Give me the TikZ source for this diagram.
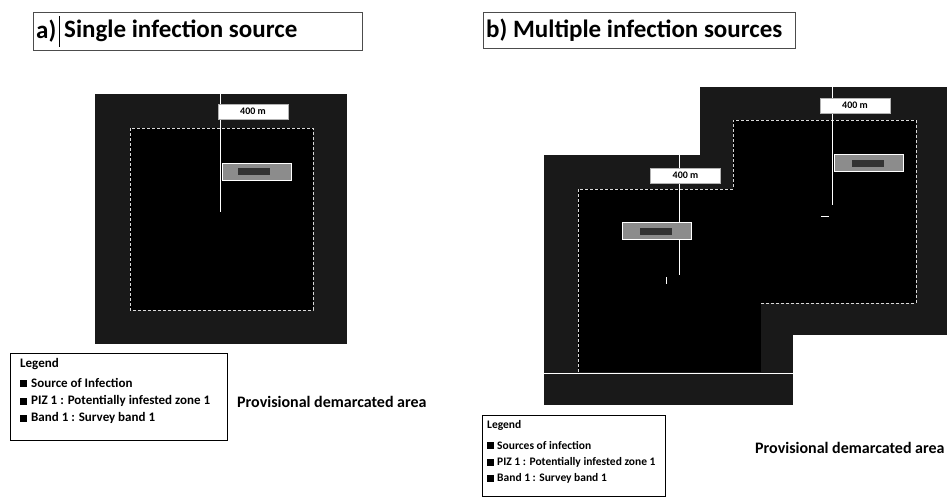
\documentclass[tikz,border=0pt]{standalone}
\usepackage{fontspec}
\setmainfont{Carlito}
\begin{document}
\begin{tikzpicture}[x=1pt,y=-1pt,
  band/.style={fill=black!90!white},
  piz/.style={fill=black},
  bound/.style={draw=white!85!black,densely dashed,line width=0.8pt},
  dimline/.style={draw=white,line width=1pt},
  distbox/.style={fill=white,draw=black!30,line width=0.4pt,inner sep=0pt,minimum width=70pt,minimum height=15pt,font=\bfseries\fontsize{10}{11}\selectfont},
  greybox/.style={fill=black!45,draw=white,line width=1pt,inner sep=0pt,minimum width=69pt,minimum height=17pt},
  greybar/.style={fill=black!80},
  titlebox/.style={draw=black!70,line width=0.6pt},
  titletext/.style={anchor=west,inner sep=0pt,font=\bfseries\fontsize{25}{27}\selectfont},
  legbox/.style={draw=black,line width=0.6pt},
  legtexta/.style={anchor=west,inner sep=0pt,font=\bfseries\fontsize{13}{15}\selectfont},
  legtextb/.style={anchor=west,inner sep=0pt,font=\bfseries\fontsize{11.5}{13}\selectfont},
  legmark/.style={fill=black,minimum size=7pt,inner sep=0pt},
  areatext/.style={anchor=west,inner sep=0pt,font=\bfseries\fontsize{16}{18}\selectfont},
  tick/.style={draw=white,line width=1pt}
]
\path[use as bounding box,fill=white] (0,0) rectangle (947,498);

% ---------------- a) single infection source ----------------
\draw[titlebox] (33,12) rectangle (362,50);
\node[titletext] (ta) at (36,31) {a)};
\draw[line width=0.8pt] (59.5,16) -- (59.5,47);
\node[titletext] (tatext) at (64,31) {Single infection source};

\fill[band] (95,94) rectangle (347,344);
\fill[piz] (130,128) rectangle (313,310);
\draw[bound] (130,128) rectangle (313,310);
\coordinate (atop) at (220,94);
\coordinate (abot) at (220,212);
\draw[dimline] (atop) -- (abot);
\node[distbox] (ad) at (253,111.5) {400 m};
\node[greybox] (ag) at (256.5,171.5) {};
\fill[greybar] (238,168) rectangle (270,175);

\draw[legbox] (10,353) rectangle (227,440);
\node[legtexta] (la0) at (20,364) {Legend};
\node[legmark] (lam1) at (23,383) {};
\node[legtexta] (la1) at (31,383) {Source of Infection};
\node[legmark] (lam2) at (23,401) {};
\node[legtexta] (la2) at (31,401) {PIZ 1 : Potentially infested zone 1};
\node[legmark] (lam3) at (23,418) {};
\node[legtexta] (la3) at (31,418) {Band 1 : Survey band 1};

\node[areatext] (aarea) at (237,402) {Provisional demarcated area};

% ---------------- b) multiple infection sources ----------------
\draw[titlebox] (483,12) rectangle (795,48);
\node[titletext] (tb) at (486,30) {b) Multiple infection sources};

\fill[band] (544,155) rectangle (793,405);
\fill[band] (700,87) rectangle (947,335);
\fill[piz] (578,189) rectangle (761,372);
\fill[piz] (733,120) rectangle (916,303);
\draw[bound] (578,372) -- (578,189) -- (733,189) -- (733,120) -- (916,120) -- (916,303) -- (761,303);
\draw[draw=white,line width=1pt] (544,373) -- (793,373);

\coordinate (b1top) at (679,155);
\coordinate (b1bot) at (679,275);
\draw[dimline] (b1top) -- (b1bot);
\node[distbox] (b1d) at (685.5,175.5) {400 m};
\node[greybox] (b1g) at (656.5,231) {};
\fill[greybar] (640,227.5) rectangle (672,234.5);
\draw[tick] (666,277) -- (666,284);

\coordinate (b2top) at (832,87);
\coordinate (b2bot) at (832,205);
\draw[dimline] (b2top) -- (b2bot);
\node[distbox] (b2d) at (855,105.5) {400 m};
\node[greybox] (b2g) at (868.5,163) {};
\fill[greybar] (852,159.5) rectangle (884,166.5);
\draw[tick] (821,216) -- (829,216);

\draw[legbox] (482,415) rectangle (665,496);
\node[legtextb] (lb0) at (487,425) {Legend};
\node[legmark] (lbm1) at (490,445) {};
\node[legtextb] (lb1) at (497,445) {Sources of infection};
\node[legmark] (lbm2) at (490,462) {};
\node[legtextb] (lb2) at (497,462) {PIZ 1 : Potentially infested zone 1};
\node[legmark] (lbm3) at (490,478) {};
\node[legtextb] (lb3) at (497,478) {Band 1 : Survey band 1};

\node[areatext] (barea) at (755,448) {Provisional demarcated area};
\end{tikzpicture}
\end{document}
